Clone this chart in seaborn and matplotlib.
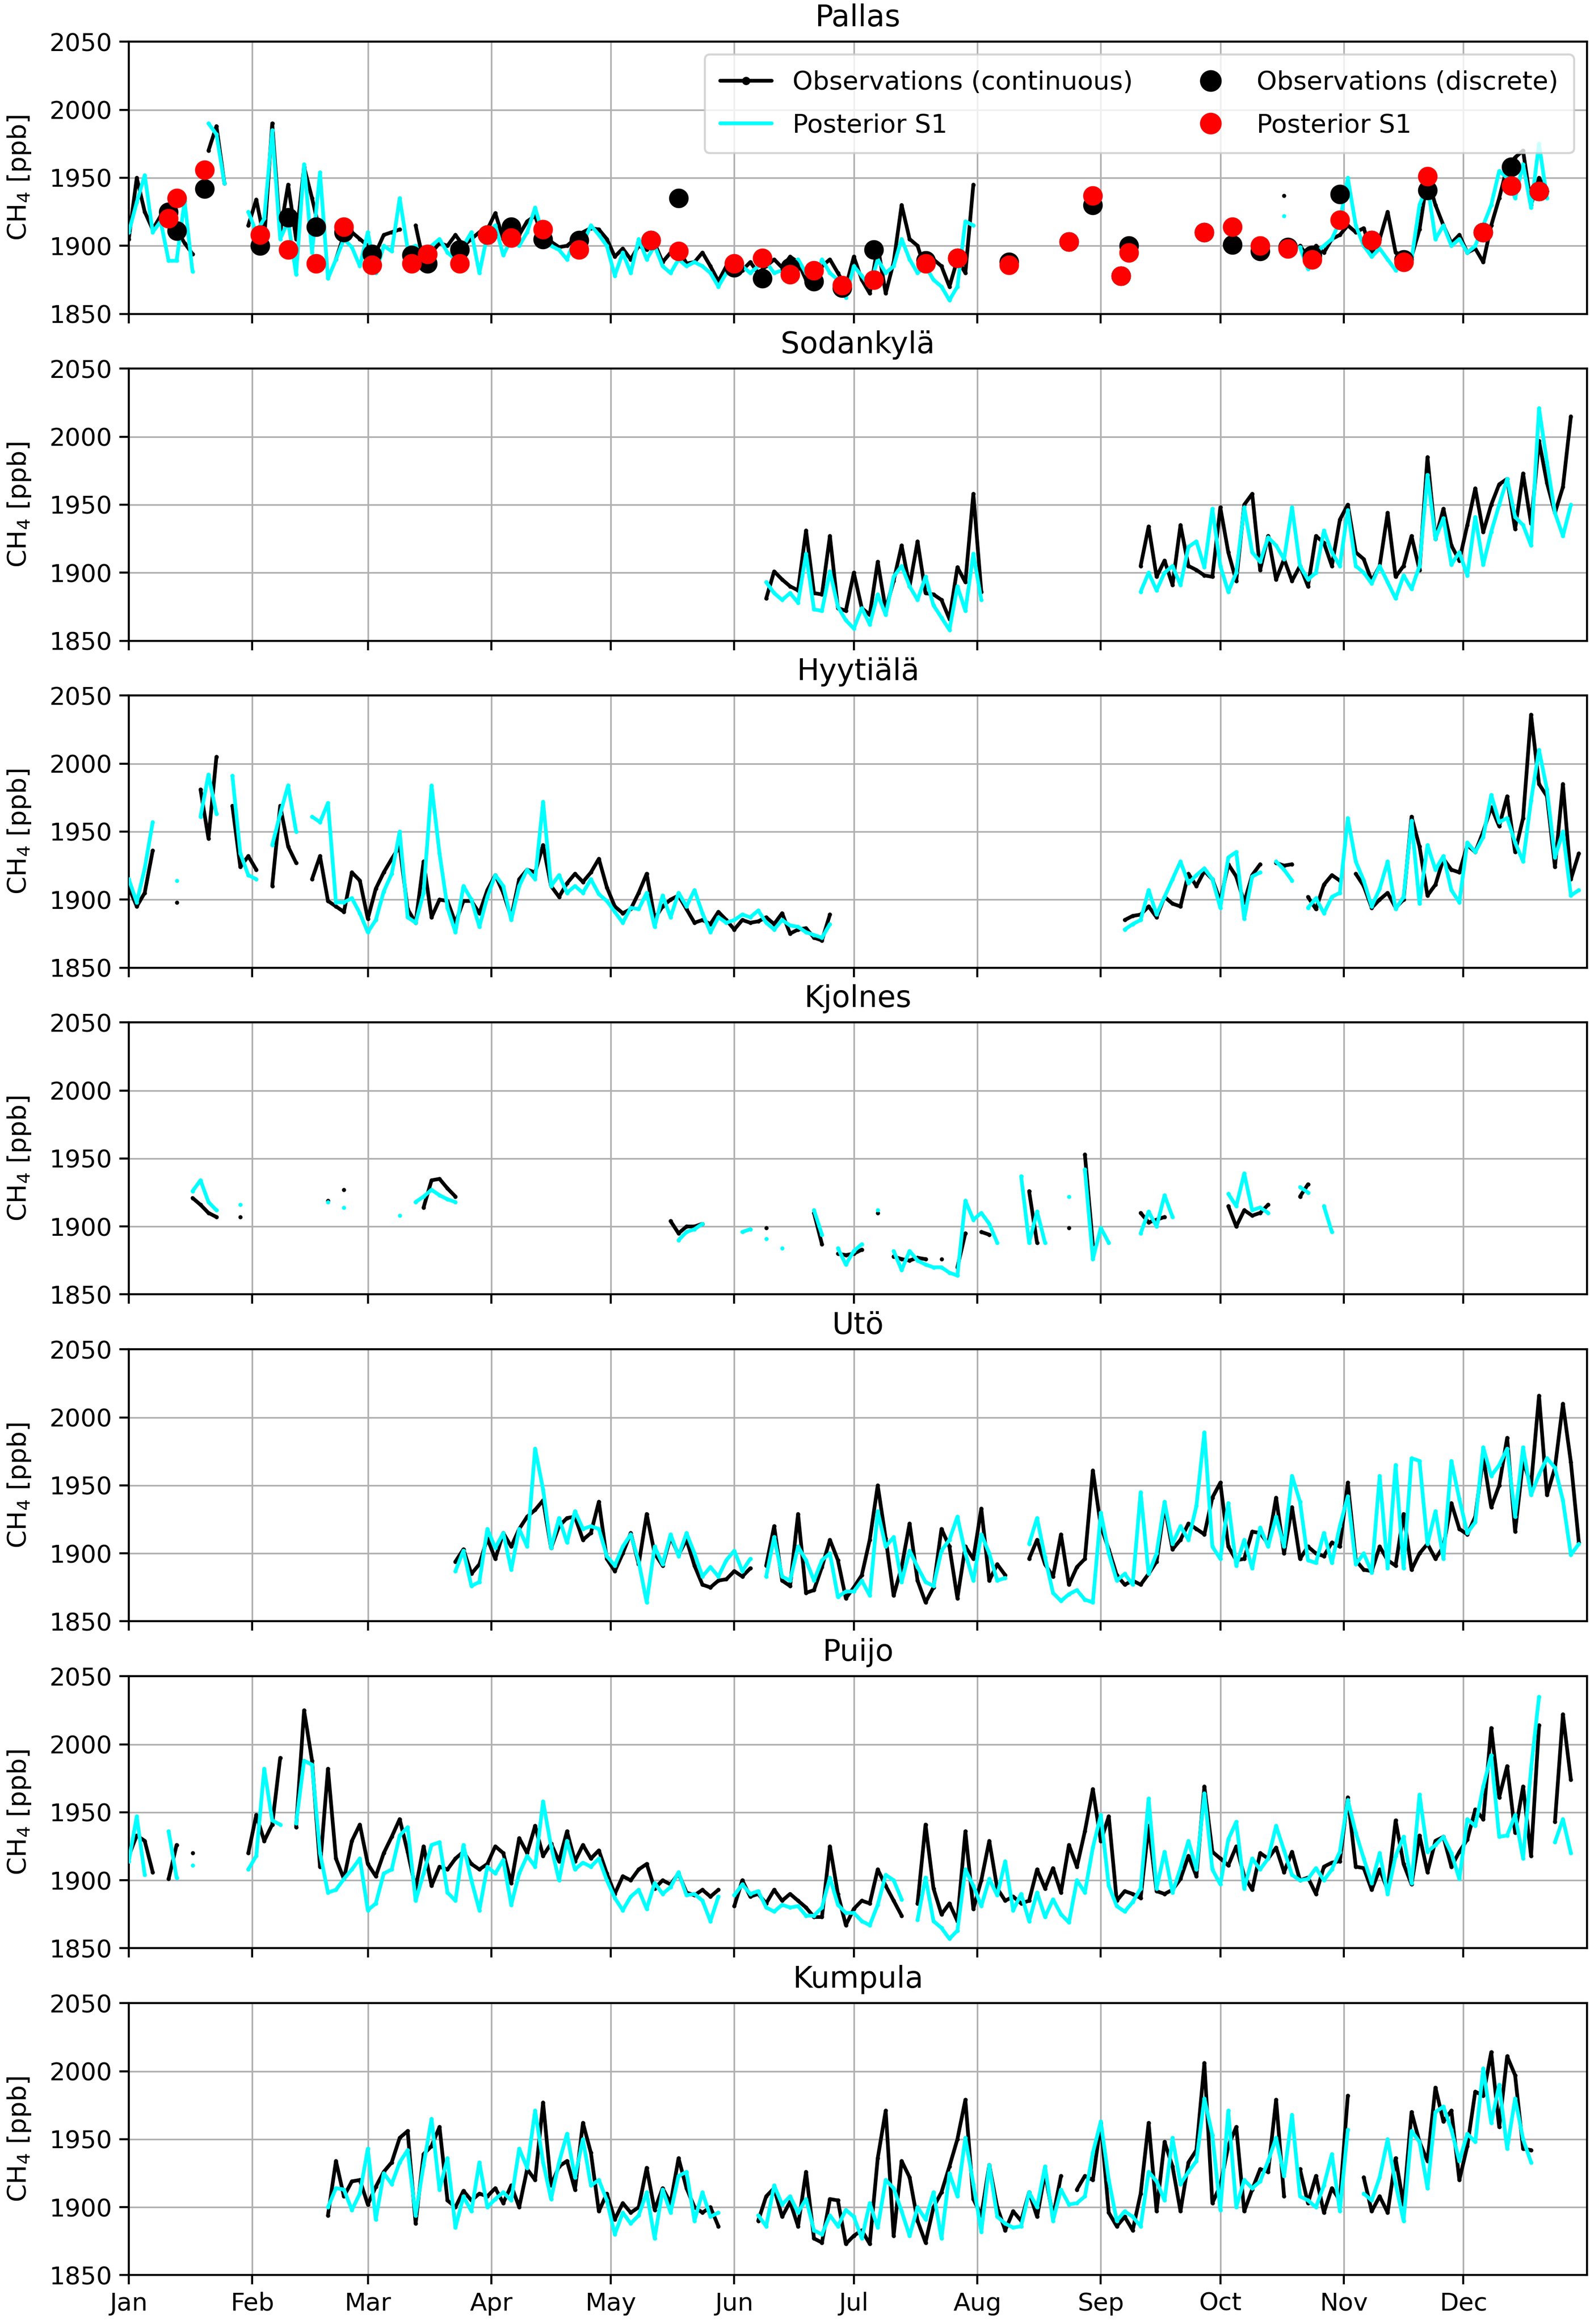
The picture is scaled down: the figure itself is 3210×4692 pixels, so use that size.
import numpy as np
import pandas as pd
import seaborn as sns
import matplotlib.pyplot as plt
import matplotlib.dates as mdates
from matplotlib.lines import Line2D

# CH4 [ppb] on a 2-day grid; each block is (first day of year, values every 2 days)
start = pd.Timestamp("2012-01-01")
step = np.arange(0, 366, 2)

pallas_obs = [
    (0, [1905, 1950, 1925, 1912, 1922, 1926, 1912, 1902, 1894]),
    (20, [1970, 1988, 1946]),
    (30, [1915, 1934, 1905, 1990, 1910, 1945, 1905, 1958, 1935, 1910]),
    (52, [1890, 1908, 1910, 1905, 1900, 1895, 1908, 1910, 1912]),
    (72, [1915, 1888, 1895, 1902, 1900]),
    (82, [1908, 1900, 1905, 1910, 1912]),
    (92, [1924, 1905, 1912, 1908, 1918, 1922, 1905, 1903, 1899, 1900, 1905, 1910, 1913, 1912, 1905]),
    (122, [1892, 1898, 1890, 1900, 1897, 1902, 1888, 1895, 1898, 1887, 1888, 1895, 1885, 1874, 1885]),
    (152, [1885, 1882, 1888, 1880, 1885, 1890, 1884, 1892, 1888, 1875, 1870, 1885, 1890, 1880, 1870]),
    (182, [1892, 1875, 1865, 1900, 1865, 1888, 1930, 1905, 1900, 1882, 1890, 1885, 1870, 1890, 1880, 1945]),
    (290, [1937]),
    (294, [1900, 1892, 1900, 1895, 1905, 1908]),
    (306, [1915, 1910, 1913, 1895, 1905, 1925, 1895, 1893, 1892, 1912, 1950, 1930, 1915, 1902, 1908]),
    (336, [1895, 1898, 1888, 1915, 1935, 1958, 1965, 1970, 1930, 1950, 1940]),
]
pallas_post = [
    (0, [1910, 1932, 1952, 1910, 1918, 1889, 1889, 1933, 1881]),
    (20, [1990, 1982, 1946]),
    (30, [1925]),
    (32, [1910, 1920, 1985, 1905, 1918, 1879, 1960, 1895, 1954, 1876, 1890, 1905, 1899, 1885]),
    (60, [1910, 1880, 1900, 1896, 1935, 1898, 1900, 1885, 1900, 1905, 1895, 1890, 1900, 1910, 1880, 1908]),
    (92, [1915, 1893, 1905, 1900, 1910, 1928, 1908, 1900, 1897, 1890, 1905, 1902, 1915, 1908, 1900]),
    (122, [1878, 1895, 1880, 1905, 1890, 1900, 1885, 1880, 1890, 1885, 1888, 1885, 1880, 1870, 1880]),
    (152, [1890, 1885, 1880, 1885, 1888, 1880, 1882, 1885, 1890, 1880, 1871, 1890, 1880, 1875, 1862]),
    (182, [1885, 1878, 1870, 1890, 1880, 1885, 1905, 1890, 1880, 1885, 1875, 1870, 1860, 1870, 1918, 1915]),
    (290, [1922]),
    (294, [1899, 1883, 1895, 1900, 1905, 1918]),
    (306, [1950, 1915, 1900, 1892, 1898, 1890, 1882, 1893, 1890, 1930, 1945, 1905, 1915, 1900, 1905]),
    (336, [1895, 1900, 1915, 1930, 1955, 1950, 1935, 1960, 1928, 1975, 1935]),
]
# Pallas flask samples
pallas_disc_day = [10, 12, 19, 33, 40, 47, 54, 61, 71, 75, 83, 90, 96, 104, 113, 131, 138,
                   152, 159, 166, 172, 179, 187, 200, 208, 221, 236, 242, 249, 251, 270,
                   277, 284, 291, 297, 304, 312, 320, 326, 340, 347, 354]
pallas_disc_obs = [1925, 1911, 1942, 1900, 1921, 1914, 1910, 1894, 1893, 1887, 1897, 1908,
                   1914, 1905, 1904, 1904, 1935, 1884, 1876, 1884, 1874, 1869, 1897, 1889,
                   1891, 1888, 1903, 1930, 1878, 1900, 1910, 1901, 1896, 1899, 1893, 1938,
                   1904, 1890, 1941, 1910, 1958, 1940]
pallas_disc_post = [1920, 1935, 1956, 1908, 1897, 1887, 1914, 1886, 1887, 1894, 1887, 1908,
                    1906, 1912, 1897, 1904, 1896, 1887, 1891, 1879, 1882, 1871, 1875, 1887,
                    1891, 1886, 1903, 1937, 1878, 1895, 1910, 1914, 1900, 1898, 1890, 1919,
                    1904, 1888, 1951, 1910, 1944, 1940]

sodankyla_obs = [
    (160, [1881, 1901, 1895, 1890, 1887, 1931, 1885, 1884, 1927, 1874, 1872]),
    (182, [1900, 1874, 1869, 1908, 1873, 1894, 1920, 1890, 1923, 1885, 1884, 1880, 1866, 1904, 1893, 1958, 1886]),
    (254, [1905, 1934, 1897, 1909, 1891, 1935, 1905, 1902, 1898, 1897]),
    (274, [1948, 1915, 1894, 1950, 1958, 1902, 1927, 1895, 1910, 1894, 1905, 1890, 1927, 1922, 1905, 1939]),
    (306, [1950, 1915, 1910, 1894, 1905, 1944, 1897, 1905, 1927, 1902, 1985, 1925, 1947, 1920, 1909]),
    (336, [1935, 1962, 1930, 1950, 1965, 1969, 1932, 1973, 1936, 1997, 1966, 1944, 1963, 2015]),
]
sodankyla_post = [
    (160, [1893, 1885, 1880, 1885, 1878, 1914, 1873, 1872, 1901, 1875, 1865]),
    (182, [1859, 1874, 1862, 1884, 1869, 1897, 1905, 1890, 1880, 1897, 1876, 1867, 1858, 1890, 1872, 1914, 1880]),
    (254, [1886, 1900, 1887, 1900, 1905, 1891, 1919, 1923, 1904, 1947]),
    (274, [1905, 1886, 1900, 1948, 1915, 1908, 1926, 1920, 1910, 1948, 1905, 1895, 1900, 1931, 1915, 1905]),
    (306, [1946, 1905, 1900, 1892, 1905, 1893, 1881, 1898, 1888, 1905, 1972, 1925, 1940, 1906, 1915]),
    (336, [1898, 1941, 1906, 1930, 1950, 1969, 1941, 1935, 1920, 2021, 1981, 1944, 1927, 1950]),
]

hyytiala_obs = [
    (0, [1909, 1895, 1905, 1936]),
    (12, [1898]),
    (18, [1981, 1945, 2005]),
    (26, [1969, 1924, 1932, 1922]),
    (36, [1910, 1969, 1939, 1927]),
    (46, [1915, 1932, 1899, 1895, 1891, 1920, 1914]),
    (60, [1886, 1908, 1920, 1930, 1939, 1893, 1883, 1928, 1887, 1900, 1899, 1883, 1899, 1899, 1890, 1907]),
    (92, [1918, 1905, 1887, 1915, 1922, 1920, 1940, 1910, 1902, 1912, 1919, 1913, 1920, 1930, 1909]),
    (122, [1895, 1890, 1893, 1905, 1919, 1886, 1895, 1900, 1903, 1893, 1883, 1885, 1882, 1891, 1885]),
    (152, [1878, 1885, 1883, 1884, 1887, 1882, 1890, 1875, 1878, 1879, 1872, 1870, 1889]),
    (250, [1885, 1888, 1889, 1895, 1887, 1902, 1897, 1895, 1919, 1910, 1921, 1915]),
    (274, [1899, 1926, 1917, 1898, 1918, 1926]),
    (288, [1927, 1925, 1926]),
    (296, [1902, 1893, 1911, 1918, 1914]),
    (308, [1919, 1910, 1894, 1900, 1905, 1894, 1900, 1961, 1939, 1903, 1911, 1930, 1922, 1920]),
    (336, [1940, 1935, 1950, 1968, 1954, 1976, 1935, 1960, 2036, 1985, 1976, 1924, 1985, 1915, 1934]),
]
hyytiala_post = [
    (0, [1915, 1898, 1923, 1957]),
    (12, [1914]),
    (18, [1961, 1992, 1963]),
    (26, [1991, 1934, 1918, 1915]),
    (36, [1940, 1963, 1984, 1950]),
    (46, [1961, 1957, 1971, 1898, 1898, 1901, 1890]),
    (60, [1876, 1885, 1906, 1919, 1950, 1887, 1883, 1905, 1984, 1934, 1894, 1876, 1910, 1900, 1880, 1902]),
    (92, [1918, 1910, 1885, 1910, 1922, 1915, 1972, 1910, 1918, 1905, 1910, 1905, 1915, 1904, 1899]),
    (122, [1891, 1883, 1894, 1893, 1905, 1880, 1903, 1887, 1905, 1895, 1907, 1890, 1876, 1887, 1883]),
    (152, [1885, 1889, 1887, 1892, 1883, 1878, 1885, 1881, 1880, 1876, 1874, 1872, 1882]),
    (250, [1878, 1882, 1885, 1907, 1889, 1902, 1915, 1928, 1912, 1918, 1923, 1915]),
    (274, [1894, 1931, 1935, 1886, 1917, 1920]),
    (288, [1928, 1922, 1914]),
    (296, [1894, 1901, 1890, 1902, 1905]),
    (306, [1960, 1928, 1914, 1895, 1908, 1928, 1893, 1902, 1958, 1897, 1940, 1922, 1932, 1907, 1898]),
    (336, [1942, 1935, 1946, 1977, 1957, 1960, 1942, 1928, 1973, 2010, 1981, 1931, 1950, 1903, 1907]),
]

kjolnes_obs = [
    (16, [1921, 1916, 1910, 1907]), (28, [1907]), (50, [1919]), (54, [1927]),
    (74, [1914, 1934, 1935, 1928, 1922]),
    (136, [1904, 1895, 1900, 1900, 1902]), (160, [1899]), (172, [1910, 1887]),
    (178, [1880, 1879, 1880, 1883]), (188, [1910]),
    (192, [1878, 1876, 1875, 1877, 1876]), (204, [1876]), (208, [1870, 1895]),
    (214, [1896, 1894]), (226, [1926, 1888]), (236, [1899]), (240, [1953, 1887]),
    (254, [1910, 1903, 1905, 1907]),
    (276, [1915, 1900, 1912, 1908, 1910, 1916]), (294, [1922, 1931]),
]
kjolnes_post = [
    (16, [1926, 1934, 1918, 1912]), (28, [1916]), (50, [1918]), (54, [1914]), (68, [1908]),
    (72, [1918, 1922, 1927, 1923, 1920, 1918]),
    (138, [1890, 1896, 1898, 1902]), (154, [1896, 1898]), (160, [1891]), (164, [1884]),
    (172, [1912, 1894]), (178, [1884, 1872, 1882, 1887]), (188, [1912]),
    (192, [1882, 1868, 1882, 1875, 1872, 1870, 1870, 1866, 1864, 1919, 1905, 1910, 1902, 1888]),
    (224, [1937, 1888, 1911, 1888]), (236, [1922]), (240, [1942, 1876, 1899, 1888]),
    (254, [1895, 1911, 1900, 1923, 1907]),
    (276, [1924, 1915, 1939, 1912, 1914, 1910]), (294, [1929, 1925]), (300, [1915, 1896]),
]

uto_obs = [
    (82, [1894, 1903, 1885, 1892, 1911]),
    (92, [1896, 1915, 1905, 1918, 1927, 1932, 1939, 1904, 1920, 1926, 1927, 1910, 1915, 1938, 1896]),
    (122, [1887, 1900, 1915, 1892, 1929, 1900, 1891, 1912, 1899, 1910, 1891, 1877, 1875, 1880, 1881]),
    (152, [1887, 1883, 1889]),
    (160, [1891, 1920, 1880, 1876, 1929, 1871, 1873, 1890, 1910, 1895, 1867]),
    (182, [1875, 1884, 1910, 1950, 1911, 1869, 1890, 1922, 1880, 1864, 1875, 1918, 1905, 1867, 1905, 1896]),
    (214, [1933, 1880, 1892, 1884]),
    (226, [1896, 1910, 1892, 1883, 1914, 1877, 1890, 1896, 1961]),
    (244, [1920, 1903, 1884, 1877, 1880, 1877, 1885, 1894, 1935, 1903, 1910, 1922, 1918, 1914, 1941]),
    (274, [1952, 1905, 1895, 1896, 1916, 1915, 1907, 1941, 1900, 1934, 1896, 1905, 1900, 1898, 1908, 1905]),
    (306, [1952, 1895, 1888, 1887, 1905, 1895, 1891, 1929, 1888, 1900, 1907, 1896, 1905, 1937, 1918]),
    (336, [1914, 1927, 1971, 1934, 1950, 1985, 1916, 1968, 1950, 2016, 1943, 1963, 2010, 1967, 1908]),
]
uto_post = [
    (82, [1887, 1902, 1876, 1879, 1918]),
    (92, [1904, 1915, 1888, 1918, 1905, 1977, 1947, 1904, 1926, 1908, 1931, 1918, 1920, 1918, 1898]),
    (122, [1891, 1905, 1914, 1894, 1864, 1905, 1892, 1914, 1898, 1915, 1900, 1883, 1890, 1883, 1895]),
    (152, [1902, 1887, 1896]),
    (160, [1883, 1912, 1883, 1880, 1905, 1895, 1880, 1895, 1900, 1868, 1872]),
    (182, [1872, 1880, 1869, 1931, 1905, 1912, 1879, 1902, 1890, 1879, 1876, 1902, 1910, 1927, 1900, 1880]),
    (214, [1914, 1900, 1880, 1882]),
    (226, [1907, 1926, 1897, 1871, 1865, 1870, 1873, 1866, 1864]),
    (244, [1930, 1900, 1880, 1885, 1877, 1945, 1885, 1900, 1938, 1907, 1920, 1910, 1935, 1989, 1905]),
    (274, [1896, 1937, 1891, 1910, 1889, 1919, 1905, 1927, 1905, 1957, 1938, 1895, 1893, 1915, 1893, 1920]),
    (306, [1942, 1892, 1900, 1886, 1957, 1889, 1965, 1889, 1970, 1968, 1907, 1931, 1896, 1968, 1940]),
    (336, [1915, 1923, 1978, 1957, 1965, 1977, 1927, 1978, 1943, 1958, 1970, 1963, 1939, 1899, 1907]),
]

puijo_obs = [
    (0, [1918, 1933, 1929, 1906]), (10, [1901, 1926]), (16, [1920]), (30, [1920]),
    (32, [1948, 1929, 1941, 1990]),
    (42, [1939, 2025, 1988, 1910, 1982, 1916, 1901, 1929, 1941]),
    (60, [1912, 1903, 1920, 1932, 1945, 1921, 1894, 1925, 1896, 1910, 1908, 1916, 1921, 1912, 1908, 1912]),
    (92, [1925, 1920, 1898, 1931, 1920, 1940, 1918, 1927, 1914, 1936, 1914, 1926, 1916, 1922, 1905]),
    (122, [1890, 1903, 1900, 1908, 1912, 1894, 1900, 1897, 1905, 1891, 1889, 1893, 1888, 1893]),
    (152, [1881, 1900, 1888, 1890, 1883, 1893, 1885, 1890, 1885, 1880, 1873, 1873, 1925, 1890, 1867]),
    (182, [1879, 1885, 1883, 1908, 1896, 1885, 1874]),
    (198, [1883, 1941, 1894, 1875, 1883, 1870, 1936, 1879]),
    (214, [1900, 1929, 1894, 1885, 1888, 1883, 1885, 1908, 1894, 1909, 1891, 1926, 1910, 1936, 1967]),
    (244, [1929, 1947]),
    (248, [1885, 1892, 1890, 1887, 1940, 1892, 1890, 1893, 1901, 1918, 1903, 1969, 1921]),
    (274, [1916, 1911, 1925, 1903, 1893, 1920, 1916, 1924, 1906, 1921, 1900, 1902, 1890, 1910, 1913, 1914]),
    (306, [1961, 1910, 1909, 1893, 1908, 1893, 1944, 1912, 1897, 1933, 1906, 1929, 1932, 1910, 1921]),
    (336, [1930, 1952, 1945, 2012, 1961, 1984, 1935, 1969, 1918, 2014]),
    (358, [1943, 2022, 1974]),
]
puijo_post = [
    (0, [1914, 1947, 1904]), (10, [1936, 1902]), (16, [1911]), (30, [1908]),
    (32, [1918, 1982, 1944, 1941]),
    (42, [1942, 1988, 1985, 1920, 1891, 1893, 1901, 1908, 1916]),
    (60, [1878, 1883, 1905, 1908, 1933, 1939, 1885, 1905, 1926, 1928, 1891, 1885, 1926, 1900, 1878, 1910]),
    (92, [1905, 1915, 1882, 1905, 1918, 1910, 1958, 1925, 1900, 1929, 1908, 1913, 1910, 1916, 1900]),
    (122, [1887, 1878, 1888, 1893, 1879, 1898, 1890, 1895, 1906, 1889, 1890, 1885, 1870, 1888]),
    (152, [1889, 1897, 1890, 1892, 1880, 1877, 1882, 1880, 1881, 1874, 1874, 1880, 1902, 1882, 1876]),
    (182, [1876, 1870, 1867, 1882, 1904, 1900, 1886]),
    (198, [1871, 1902, 1870, 1865, 1857, 1863, 1908, 1896]),
    (214, [1881, 1901, 1889, 1914, 1878, 1890, 1870, 1891, 1873, 1886, 1875, 1869, 1900, 1891, 1924]),
    (244, [1948, 1896]),
    (248, [1881, 1877, 1884, 1894, 1960, 1894, 1921, 1891, 1909, 1929, 1908, 1964, 1908]),
    (274, [1897, 1930, 1943, 1894, 1916, 1908, 1916, 1940, 1922, 1904, 1900, 1901, 1909, 1900, 1908, 1921]),
    (306, [1959, 1935, 1916, 1898, 1920, 1890, 1918, 1932, 1898, 1963, 1921, 1926, 1932, 1920, 1901]),
    (336, [1945, 1940, 1969, 1992, 1932, 1933, 1948, 1916, 1982, 2035]),
    (358, [1928, 1945, 1920]),
]

kumpula_obs = [
    (50, [1894, 1934, 1908]),
    (56, [1919, 1920, 1902, 1915, 1926, 1933, 1951, 1956, 1888, 1939, 1945, 1959, 1905, 1900, 1912, 1905, 1910, 1908]),
    (92, [1914, 1903, 1916, 1900, 1928, 1920, 1977, 1916, 1930, 1934, 1913, 1962, 1940, 1897, 1910]),
    (122, [1891, 1903, 1896, 1900, 1929, 1898, 1914, 1903, 1936, 1914, 1900, 1896, 1900, 1886]),
    (158, [1890, 1908, 1914, 1893, 1904, 1886, 1926, 1877, 1874, 1906, 1905, 1873]),
    (182, [1879, 1883, 1873, 1936, 1971, 1879, 1934, 1922, 1890, 1874, 1900, 1911, 1930, 1950, 1979, 1906]),
    (214, [1894, 1931, 1900, 1883, 1897, 1890, 1911, 1893, 1925, 1893, 1923]),
    (238, [1913, 1923, 1920]),
    (244, [1962, 1896, 1886, 1893, 1883, 1910, 1962, 1897, 1948, 1930, 1897, 1933, 1942, 2006, 1903]),
    (274, [1916, 1945, 1959, 1897, 1913, 1928, 1926, 1979, 1908]),
    (294, [1928, 1903, 1923, 1896, 1914, 1905, 1982]),
    (310, [1922, 1897, 1908, 1896, 1936, 1902, 1970, 1948, 1934, 1988, 1963, 1971, 1920]),
    (336, [1945, 1985, 1982, 2014, 1959, 2011, 1997, 1943, 1942]),
]
kumpula_post = [
    (50, [1900, 1914, 1913]),
    (56, [1898, 1910, 1943, 1891, 1925, 1917, 1933, 1942, 1894, 1931, 1965, 1913, 1936, 1885, 1908, 1897, 1933, 1900]),
    (92, [1906, 1911, 1905, 1943, 1929, 1971, 1933, 1906, 1933, 1954, 1922, 1950, 1916, 1920, 1905]),
    (122, [1880, 1896, 1888, 1894, 1911, 1877, 1913, 1896, 1923, 1926, 1890, 1911, 1893, 1896]),
    (158, [1894, 1886, 1916, 1902, 1908, 1896, 1906, 1883, 1880, 1894, 1886, 1898]),
    (182, [1893, 1877, 1903, 1885, 1920, 1914, 1897, 1879, 1900, 1891, 1911, 1877, 1925, 1908, 1951, 1917]),
    (214, [1882, 1931, 1893, 1888, 1885, 1886, 1911, 1900, 1930, 1890, 1913, 1902, 1903, 1908, 1940]),
    (244, [1963, 1920, 1890, 1897, 1893, 1886, 1926, 1919, 1905, 1951, 1917, 1926, 1934, 1980, 1953]),
    (274, [1898, 1971, 1900, 1920, 1914, 1919, 1934, 1951, 1923, 1968, 1908, 1905, 1900, 1916, 1939, 1897]),
    (306, [1957]),
    (310, [1910, 1905, 1922, 1950, 1917, 1890, 1956, 1948, 1914, 1970, 1974, 1957, 1934]),
    (336, [1954, 1948, 2002, 1962, 1990, 1943, 1980, 1950, 1933]),
]

stations = [
    ("Pallas", pallas_obs, pallas_post),
    ("Sodankylä", sodankyla_obs, sodankyla_post),
    ("Hyytiälä", hyytiala_obs, hyytiala_post),
    ("Kjolnes", kjolnes_obs, kjolnes_post),
    ("Utö", uto_obs, uto_post),
    ("Puijo", puijo_obs, puijo_post),
    ("Kumpula", kumpula_obs, kumpula_post),
]


def expand(blocks):
    y = np.full(step.size, np.nan)
    for d0, vals in blocks:
        i = d0 // 2
        y[i:i + len(vals)] = np.array(vals, dtype=float)
    return y


def draw(ax, blocks, color, z):
    # break the line wherever there is no data
    y = expand(blocks)
    run = np.cumsum(np.isnan(y))
    ok = ~np.isnan(y)
    df = pd.DataFrame({"date": start + pd.to_timedelta(step[ok], unit="D"),
                       "ch4": y[ok], "run": run[ok]})
    sns.lineplot(data=df, x="date", y="ch4", units="run", estimator=None, color=color,
                 lw=1.8, marker=".", ms=4, mec=color, mew=0, ax=ax, zorder=z, legend=False)


sns.set_style("ticks", {"axes.edgecolor": "black", "text.color": "black",
                        "xtick.color": "black", "ytick.color": "black",
                        "axes.labelcolor": "black"})
plt.rcParams["font.family"] = ["DejaVu Sans"]

fig, axes = plt.subplots(7, 1, figsize=(10.7, 15.64), dpi=300, sharex=True)
fig.subplots_adjust(left=0.081, right=0.998, top=0.982, bottom=0.021, hspace=0.202)

month_starts = pd.date_range("2012-01-01", "2012-12-01", freq="MS")

for ax, (name, obs, post) in zip(axes, stations):
    draw(ax, obs, "black", 2)
    draw(ax, post, "cyan", 3)
    ax.set_title(name, fontsize=14.5, pad=7.5)
    ax.set_ylabel("CH$_4$ [ppb]", fontsize=12.5, labelpad=8)
    ax.set_xlabel("")
    ax.set_ylim(1850, 2050)
    ax.set_yticks([1850, 1900, 1950, 2000, 2050])
    ax.set_xticks(month_starts)
    ax.set_xlim(pd.Timestamp("2012-01-01"), pd.Timestamp("2013-01-01"))
    ax.grid(True, color="#b0b0b0", lw=0.8)
    ax.set_axisbelow(True)
    ax.tick_params(labelsize=12, length=4.5, width=1, direction="out")
    for sp in ax.spines.values():
        sp.set_linewidth(1.0)

# discrete (flask) samples at Pallas
ax0 = axes[0]
disc_dates = start + pd.to_timedelta(pallas_disc_day, unit="D")
sns.scatterplot(x=disc_dates, y=pallas_disc_obs, color="black", s=90, linewidth=0,
                ax=ax0, zorder=4, legend=False)
sns.scatterplot(x=disc_dates, y=pallas_disc_post, color="red", s=90, linewidth=0,
                ax=ax0, zorder=5, legend=False)
ax0.set_xlabel("")
ax0.set_ylabel("CH$_4$ [ppb]", fontsize=12.5, labelpad=8)

handles = [
    Line2D([], [], color="black", lw=1.8, marker=".", ms=6),
    Line2D([], [], color="cyan", lw=1.8),
    Line2D([], [], color="black", marker="o", ms=9.5, ls="none"),
    Line2D([], [], color="red", marker="o", ms=9.5, ls="none"),
]
labels = ["Observations (continuous)", "Posterior S1",
          "Observations (discrete)", "Posterior S1"]
ax0.legend(handles, labels, ncol=2, loc="upper right", fontsize=12.5,
           labelspacing=0.7, borderpad=0.6)

axes[-1].xaxis.set_major_formatter(mdates.DateFormatter("%b"))

fig.savefig("out.png", dpi=300)
